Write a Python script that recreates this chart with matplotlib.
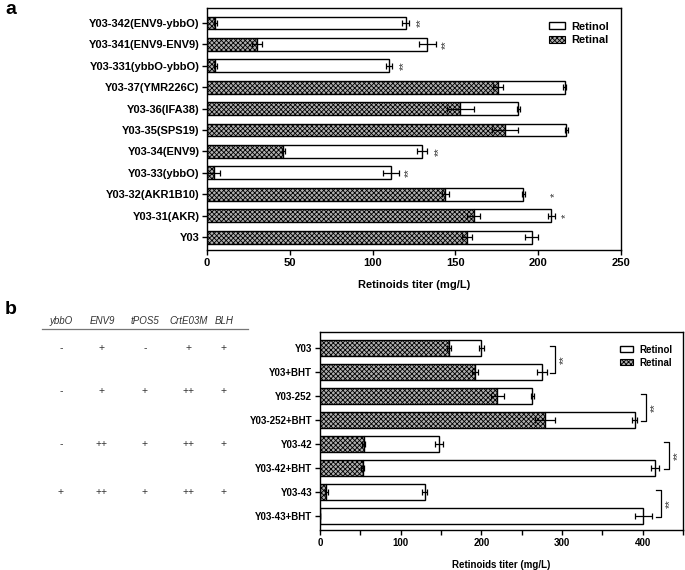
import matplotlib
matplotlib.use("Agg")
import matplotlib.pyplot as plt
from matplotlib.patches import Patch
from matplotlib.transforms import blended_transform_factory
import numpy as np

plt.rcParams['font.family'] = ['Liberation Sans', 'DejaVu Sans']
plt.rcParams['hatch.linewidth'] = 0.6

# ---- panel a data ----
strains_a = ["Y03-342(ENV9-ybbO)", "Y03-341(ENV9-ENV9)", "Y03-331(ybbO-ybbO)",
             "Y03-37(YMR226C)", "Y03-36(IFA38)", "Y03-35(SPS19)", "Y03-34(ENV9)",
             "Y03-33(ybbO)", "Y03-32(AKR1B10)", "Y03-31(AKR)", "Y03"]
retinal_a = [5, 30, 5, 176, 153, 180, 46, 4, 144, 161, 157]
retinal_err_a = [1, 3, 1, 3, 8, 8, 1, 4, 2, 4, 3]
total_a = [120, 133, 110, 216, 188, 217, 130, 111, 191, 208, 196]
total_err_a = [2, 5, 2, 1, 1, 1, 3, 5, 1, 2, 4]
stars_a = ["**", "**", "**", "", "", "", "**", "**", "*", "*", ""]
star_x_a = [129, 144, 119, 0, 0, 0, 140, 122, 210, 217, 0]

# ---- panel b data ----
strains_b = ["Y03", "Y03+BHT", "Y03-252", "Y03-252+BHT",
             "Y03-42", "Y03-42+BHT", "Y03-43", "Y03-43+BHT"]
retinal_b = [160, 192, 220, 279, 54, 53, 8, 0]
retinal_err_b = [3, 4, 8, 12, 2, 2, 2, 0]
total_b = [200, 275, 263, 390, 148, 415, 130, 401]
total_err_b = [3, 6, 2, 3, 5, 5, 3, 10]
bracket_rows = [(0, 1), (2, 3), (4, 5), (6, 7)]
bracket_x = [291, 404, 433, 423]

genes = ["ybbO", "ENV9", "tPOS5", "CrtE03M", "BLH"]
gene_rows = [0, 1.8, 4, 6]
genotype = [["-", "+", "-", "+", "+"],
            ["-", "+", "+", "++", "+"],
            ["-", "++", "+", "++", "+"],
            ["+", "++", "+", "++", "+"]]

hatch_face = '#b0b0b0'
W, H = 685, 570
fig = plt.figure(figsize=(6.85, 5.7), dpi=100)


def draw_bars(ax, y, retinal, rerr, total, terr, height):
    retinol = np.array(total) - np.array(retinal)
    ax.barh(y, retinal, height=height, color=hatch_face, edgecolor='black',
            hatch='xxxxxxx', linewidth=1.0, zorder=2)
    ax.barh(y, retinol, left=retinal, height=height, color='white',
            edgecolor='black', linewidth=1.0, zorder=2)
    ax.errorbar(retinal, y, xerr=rerr, fmt='none', ecolor='black',
                elinewidth=0.9, capsize=2.5, capthick=0.9, zorder=3)
    ax.errorbar(total, y, xerr=terr, fmt='none', ecolor='black',
                elinewidth=0.9, capsize=2.5, capthick=0.9, zorder=3)


def legend(ax, fs, anchor):
    handles = [Patch(facecolor='white', edgecolor='black', linewidth=1.0, label='Retinol'),
               Patch(facecolor=hatch_face, edgecolor='black', hatch='xxxxxxx',
                     linewidth=0.8, label='Retinal')]
    leg = ax.legend(handles=handles, loc='upper right', bbox_to_anchor=anchor,
                    frameon=False, handlelength=1.4, handleheight=0.6,
                    handletextpad=0.6, labelspacing=0.3,
                    prop={'weight': 'bold', 'size': fs})
    return leg


# ---- panel a ----
axa = fig.add_axes([207 / W, 1 - 250 / H, (621 - 207) / W, (250 - 8) / H])
ya = np.arange(len(strains_a))
draw_bars(axa, ya, retinal_a, retinal_err_a, total_a, total_err_a, 0.6)
for i, s in enumerate(stars_a):
    if s:
        axa.text(star_x_a[i], ya[i], s, rotation=90, ha='center', va='center',
                 fontsize=8, color='#333333')
axa.set_ylim(len(strains_a) - 1 + 0.6, -0.7)
axa.set_xlim(0, 250)
axa.set_xticks([0, 50, 100, 150, 200, 250])
axa.set_yticks(ya)
axa.set_yticklabels(strains_a, fontsize=8, fontweight='bold')
for t in axa.get_xticklabels():
    t.set_fontweight('bold')
    t.set_fontsize(8)
axa.set_xlabel("Retinoids titer (mg/L)", fontsize=8, fontweight='bold', labelpad=9)
axa.tick_params(axis='both', length=3.5, width=1.0, pad=2)
for sp in axa.spines.values():
    sp.set_linewidth(1.0)
legend(axa, 8, (0.995, 0.985))

# ---- panel b ----
axb = fig.add_axes([320 / W, 1 - 530 / H, (683 - 320) / W, (530 - 332) / H])
yb = np.arange(len(strains_b))
draw_bars(axb, yb, retinal_b, retinal_err_b, total_b, total_err_b, 0.64)
for (r0, r1), bx in zip(bracket_rows, bracket_x):
    axb.plot([bx - 6, bx, bx, bx - 6], [yb[r0] - 0.1, yb[r0] - 0.1, yb[r1] + 0.05, yb[r1] + 0.05],
             color='black', lw=0.9)
    axb.text(bx + 11, (yb[r0] + yb[r1]) / 2, "**", rotation=90, ha='center',
             va='center', fontsize=8, color='#333333')
axb.set_ylim(len(strains_b) - 1 + 0.58, -0.67)
axb.set_xlim(0, 450)
axb.set_xticks([0, 100, 200, 300, 400])
axb.set_xticks(np.arange(50, 451, 100), minor=True)
axb.set_yticks(yb)
axb.set_yticklabels(strains_b, fontsize=7, fontweight='bold')
for t in axb.get_xticklabels():
    t.set_fontweight('bold')
    t.set_fontsize(7)
axb.set_xlabel("Retinoids titer (mg/L)", fontsize=7, fontweight='bold', labelpad=9)
axb.tick_params(axis='both', which='major', length=3.5, width=1.0, pad=2)
axb.tick_params(axis='x', which='minor', length=3.5, width=1.0)
for sp in axb.spines.values():
    sp.set_linewidth(1.0)
legend(axb, 7, (0.995, 0.98))

# genotype table to the left of panel b
gene_x = [61, 102, 145, 189, 224]
for gx, g in zip(gene_x, genes):
    fig.text(gx / W, 1 - 321 / H, g, ha='center', va='center', fontsize=7,
             style='italic', color='#333333')
fig.add_artist(plt.Line2D([42 / W, 248 / W], [1 - 329 / H, 1 - 329 / H],
                          color='#777777', lw=0.9))
trans = blended_transform_factory(fig.transFigure, axb.transData)
for row, vals in zip(gene_rows, genotype):
    for gx, v in zip(gene_x, vals):
        fig.text(gx / W, row, v, ha='center', va='center', fontsize=7.5,
                 color='#333333', transform=trans)

fig.text(5 / W, 1 - 9 / H, "a", fontsize=14, fontweight='bold', va='center')
fig.text(5 / W, 1 - 310 / H, "b", fontsize=14, fontweight='bold', va='center')

fig.savefig("out.png", dpi=100)
